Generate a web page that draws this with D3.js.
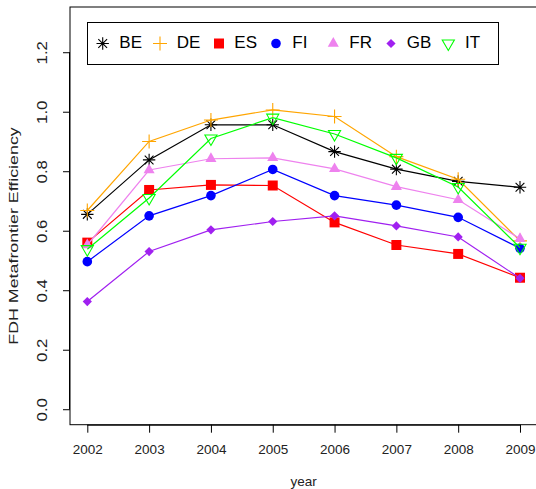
<!DOCTYPE html>
<html>
<head>
<meta charset="utf-8">
<script src="https://cdn.jsdelivr.net/npm/d3@7"></script>
<style>
  html, body { margin: 0; padding: 0; background: #fff; }
  svg { display: block; font-family: "Liberation Sans", Arial, Helvetica, sans-serif; }
</style>
</head>
<body>
<svg id="chart" width="536" height="489"></svg>
<script>
// Years on the x axis
const years = [2002, 2003, 2004, 2005, 2006, 2007, 2008, 2009];

// FDH metafrontier efficiency by country
const BE = [0.655, 0.838, 0.956, 0.956, 0.866, 0.807, 0.766, 0.746];
const DE = [0.668, 0.900, 0.972, 1.006, 0.984, 0.849, 0.773, 0.566];
const ES = [0.560, 0.737, 0.754, 0.752, 0.628, 0.552, 0.522, 0.442];
const FI = [0.496, 0.650, 0.718, 0.806, 0.718, 0.686, 0.645, 0.541];
const FR = [0.552, 0.804, 0.842, 0.845, 0.808, 0.748, 0.704, 0.573];
const GB = [0.362, 0.530, 0.603, 0.631, 0.650, 0.616, 0.579, 0.440];
const IT = [0.538, 0.710, 0.910, 0.980, 0.925, 0.845, 0.747, 0.543];

const countries = ["BE", "DE", "ES", "FI", "FR", "GB", "IT"];
const seriesValues = [BE, DE, ES, FI, FR, GB, IT];
const colors = ["#000000", "#FFA500", "#FF0000", "#0000FF", "#EE82EE", "#A020F0", "#00FF00"];
const shapes = ["star", "plus", "square", "circle", "triUp", "diamond", "triDown"];

const yTicks = [0.0, 0.2, 0.4, 0.6, 0.8, 1.0, 1.2];
const yTickLabels = ["0.0", "0.2", "0.4", "0.6", "0.8", "1.0", "1.2"];

const svg = d3.select("#chart");

// Plot region (R style: axis limits padded by 4%)
const plot = { left: 70, right: 537.3, top: 7, bottom: 424.7 };
const x = d3.scaleLinear().domain([2001.72, 2009.28]).range([plot.left, plot.right]);
const y = d3.scaleLinear().domain([-0.052, 1.352]).range([plot.bottom, plot.top]);

// Marker path generator, centred on (0,0)
function markerPath(shape) {
  const p = d3.path();
  switch (shape) {
    case "star": {
      const r = 6.2, d = r * 0.7071;
      p.moveTo(-r, 0); p.lineTo(r, 0);
      p.moveTo(0, -r); p.lineTo(0, r);
      p.moveTo(-d, -d); p.lineTo(d, d);
      p.moveTo(-d, d); p.lineTo(d, -d);
      break;
    }
    case "plus": {
      const r = 7;
      p.moveTo(-r, 0); p.lineTo(r, 0);
      p.moveTo(0, -r); p.lineTo(0, r);
      break;
    }
    case "square": {
      const h = 5;
      p.rect(-h, -h, 2 * h, 2 * h);
      break;
    }
    case "circle":
      p.arc(0, 0, 4.8, 0, 2 * Math.PI);
      break;
    case "triUp": {
      const r = 6.4, xc = r * Math.sqrt(3) / 2, yc = r / 2;
      p.moveTo(0, -r); p.lineTo(xc, yc); p.lineTo(-xc, yc); p.closePath();
      break;
    }
    case "diamond": {
      const r = 4.6;
      p.moveTo(0, -r); p.lineTo(r, 0); p.lineTo(0, r); p.lineTo(-r, 0); p.closePath();
      break;
    }
    case "triDown": {
      const r = 7, xc = r * Math.sqrt(3) / 2, yc = r / 2;
      p.moveTo(0, r); p.lineTo(xc, -yc); p.lineTo(-xc, -yc); p.closePath();
      break;
    }
  }
  return p.toString();
}

function styleMarker(sel, shape, color) {
  const filled = ["square", "circle", "triUp", "diamond"].includes(shape);
  sel.attr("d", markerPath(shape))
    .attr("fill", filled ? color : "none")
    .attr("stroke", color)
    .attr("stroke-width", filled ? 0 : 1.1);
}

// Box around the plot region
svg.append("rect")
  .attr("x", plot.left).attr("y", plot.top)
  .attr("width", plot.right - plot.left).attr("height", plot.bottom - plot.top)
  .attr("fill", "none").attr("stroke", "#000").attr("stroke-width", 1);

// Y axis
const yAxis = svg.append("g")
  .attr("transform", `translate(${plot.left},0)`)
  .call(d3.axisLeft(y).tickValues(yTicks).tickSize(7)
    .tickFormat((d, i) => yTickLabels[i]));
yAxis.select(".domain").attr("d", `M-0.5,${y(0)}V${y(1.2)}`).attr("stroke", "#000");
yAxis.selectAll(".tick line").attr("stroke", "#000");
yAxis.selectAll(".tick text")
  .attr("x", null).attr("dy", null)
  .attr("text-anchor", "middle")
  .attr("transform", "translate(-27,0) rotate(-90) scale(1.2,1)")
  .attr("y", 0)
  .attr("dominant-baseline", "middle")
  .attr("font-size", 14).attr("fill", "#222")
  .attr("font-family", "Liberation Sans, Arial, sans-serif");

// X axis
const xAxis = svg.append("g")
  .attr("transform", `translate(0,${plot.bottom})`)
  .call(d3.axisBottom(x).tickValues(years).tickSize(8).tickFormat(d3.format("d")));
xAxis.select(".domain").attr("d", `M${x(2002)},0.5H${x(2009)}`).attr("stroke", "#000");
xAxis.selectAll(".tick line").attr("stroke", "#000");
xAxis.selectAll(".tick text")
  .attr("y", 26).attr("dy", null)
  .attr("dominant-baseline", "middle")
  .attr("font-size", 13.5).attr("fill", "#222")
  .attr("font-family", "Liberation Sans, Arial, sans-serif");

// Axis titles
svg.append("text")
  .attr("x", (plot.left + plot.right) / 2).attr("y", 482)
  .attr("text-anchor", "middle").attr("dominant-baseline", "middle")
  .attr("font-size", 13.5).attr("fill", "#222").text("year");

svg.append("text")
  .attr("transform", `translate(14,236) rotate(-90) scale(1.32,1)`)
  .attr("text-anchor", "middle").attr("dominant-baseline", "middle")
  .attr("font-size", 13.5).attr("fill", "#222").text("FDH Metafrontier Efficiency");

// Series: line then markers, in country order
const line = d3.line().x((d, i) => x(years[i])).y(d => y(d));
countries.forEach((c, k) => {
  const g = svg.append("g").attr("class", "series-" + c);
  g.append("path")
    .datum(seriesValues[k])
    .attr("d", line)
    .attr("fill", "none")
    .attr("stroke", colors[k])
    .attr("stroke-width", 1.2);
  g.selectAll("path.marker")
    .data(seriesValues[k])
    .join("path")
    .attr("class", "marker")
    .attr("transform", (d, i) => `translate(${x(years[i])},${y(d)})`)
    .call(sel => styleMarker(sel, shapes[k], colors[k]));
});

// Legend
const legend = svg.append("g").attr("class", "legend");
legend.append("rect")
  .attr("x", 87.5).attr("y", 22.5).attr("width", 411).attr("height", 42)
  .attr("fill", "#fff").attr("stroke", "#000").attr("stroke-width", 1);
const legendSymX = [102.7, 160, 219, 276, 333.3, 391, 448.3];
const legendTextX = [119.3, 176.7, 234.3, 292.3, 349.3, 406.7, 465];
countries.forEach((c, k) => {
  legend.append("path")
    .attr("transform", `translate(${legendSymX[k]},43.5)`)
    .call(sel => styleMarker(sel, shapes[k], colors[k]));
  legend.append("text")
    .attr("x", legendTextX[k]).attr("y", 44)
    .attr("dominant-baseline", "middle")
    .attr("font-size", 17).attr("fill", "#000")
    .text(c);
});
</script>
</body>
</html>
